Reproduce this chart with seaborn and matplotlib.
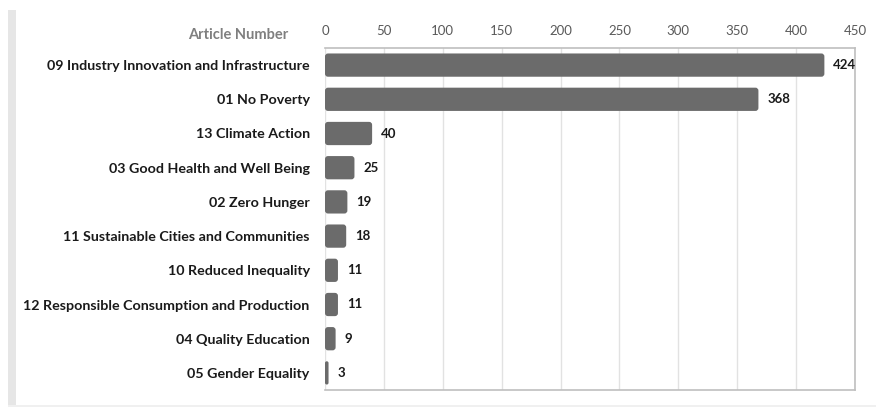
import matplotlib
matplotlib.use("Agg")
import matplotlib.pyplot as plt
import seaborn as sns
import pandas as pd
from matplotlib.patches import FancyBboxPatch, Rectangle

categories = [
    "09 Industry Innovation and Infrastructure",
    "01 No Poverty",
    "13 Climate Action",
    "03 Good Health and Well Being",
    "02 Zero Hunger",
    "11 Sustainable Cities and Communities",
    "10 Reduced Inequality",
    "12 Responsible Consumption and Production",
    "04 Quality Education",
    "05 Gender Equality",
]
article_counts = [424, 368, 40, 25, 19, 18, 11, 11, 9, 3]
x_ticks = [0, 50, 100, 150, 200, 250, 300, 350, 400, 450]

df = pd.DataFrame({"sdg": categories, "articles": article_counts})

sns.set_theme(style="white")
plt.rcParams["font.family"] = ["Lato", "DejaVu Sans"]

fig = plt.figure(figsize=(8.76, 4.07), dpi=100)
fig.patch.set_facecolor("white")
ax = fig.add_axes([325 / 876, 1 - 390 / 407, (855 - 325) / 876, (390 - 48) / 407])

bar_color = "#6b6b6b"
sns.barplot(data=df, x="articles", y="sdg", orient="h", color=bar_color,
            width=0.68, saturation=1, ax=ax)

ax.set_xlim(0, 450)
ax.set_ylim(len(categories) - 0.5, -0.5)

# swap the square bars for rounded ones of the same size
px_x = 450 / (855 - 325)
px_y = len(categories) / (390 - 48)
for p in list(ax.patches):
    x0, y0, w, h = p.get_x(), p.get_y(), p.get_width(), p.get_height()
    p.remove()
    r = 3 * px_x
    ax.add_patch(FancyBboxPatch((x0, y0), w, h,
                                boxstyle=f"round,pad=0,rounding_size={min(r, w / 2)}",
                                mutation_aspect=px_y / px_x,
                                facecolor=bar_color, edgecolor="none", zorder=3))

for i, v in enumerate(article_counts):
    ax.text(v + 9 * px_x, i, str(v), va="center", ha="left",
            fontsize=9.5, fontweight="bold", color="#1a1a1a", zorder=4)

ax.set_xticks(x_ticks)
ax.xaxis.tick_top()
ax.tick_params(axis="x", length=0, pad=8, labelsize=9.5, labelcolor="#595959")
ax.tick_params(axis="y", length=0, pad=11)
for lab in ax.get_yticklabels():
    lab.set_fontweight("bold")
    lab.set_fontsize(10.3)
    lab.set_color("#1a1a1a")
ax.set_xlabel("")
ax.set_ylabel("")
ax.grid(axis="x", color="#e2e2e2", linewidth=1, zorder=0)
ax.set_axisbelow(True)

for side in ["top", "right", "bottom"]:
    ax.spines[side].set_visible(True)
    ax.spines[side].set_color("#bfbfbf")
    ax.spines[side].set_linewidth(1.2)
ax.spines["left"].set_visible(False)

fig.text(288 / 876, 1 - 35 / 407, "Article Number", ha="right", va="center",
         fontsize=10.5, fontweight="bold", color="#7f7f7f")

# light frame strip on the left and a faint bottom rule
fig.add_artist(Rectangle((8 / 876, 0), 8 / 876, 1 - 10 / 407, transform=fig.transFigure,
                         facecolor="#e6e6e6", edgecolor="none"))
fig.add_artist(Rectangle((8 / 876, 0), 868 / 876, 2 / 407, transform=fig.transFigure,
                         facecolor="#f0f0f0", edgecolor="none"))

fig.savefig("out.png", dpi=100, facecolor="white")
